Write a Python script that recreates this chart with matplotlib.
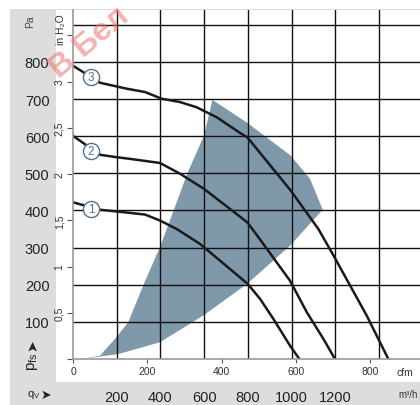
import numpy as np
import matplotlib
matplotlib.use("Agg")
import matplotlib.pyplot as plt
from matplotlib.patches import Rectangle

plt.rcParams['font.family'] = ['Liberation Sans', 'DejaVu Sans']
plt.rcParams['mathtext.fontset'] = 'custom'
plt.rcParams['mathtext.rm'] = 'Liberation Sans'
plt.rcParams['mathtext.it'] = 'Liberation Sans'

# ==============================
# DATA
# ==============================
# fan curves: flow in m3/h, static pressure in Pa
curve1_q = [0, 124, 206, 330, 398, 475, 581, 764, 800, 856, 917, 993, 1036]
curve1_p = [422, 402, 397, 389, 373, 350, 310, 220, 202, 162, 108, 36, 0]

curve2_q = [0, 124, 206, 261, 398, 490, 600, 798, 856, 993, 1070, 1146, 1199]
curve2_p = [601, 550, 543, 539, 528, 499, 458, 368, 322, 211, 126, 54, 0]

curve3_q = [0, 124, 246, 330, 406, 490, 566, 658, 764, 798, 996, 1123, 1191, 1268, 1344, 1443]
curve3_p = [790, 744, 728, 719, 701, 692, 678, 651, 609, 597, 454, 350, 280, 198, 117, 0]

# operating range (shaded area)
zone_q = [40, 124, 192, 253, 322, 398, 458, 526, 600, 638, 798, 996, 1085, 1143,
          1062, 993, 796, 601, 398, 205, 40]
zone_p = [0, 9, 54, 99, 199, 301, 396, 504, 602, 698, 636, 548, 485, 402,
          350, 305, 202, 119, 45, 13, 0]

curve_labels = ['1', '2', '3']
label_q = [82, 82, 82]
label_p = [404, 560, 760]

m3h_ticks = [200, 400, 600, 800, 1000, 1200, 1400]
m3h_labels = ['200', '400', '600', '800', '1000', '1200', '']
pa_ticks = [100, 200, 300, 400, 500, 600, 700, 800, 900]
pa_labels = ['100', '200', '300', '400', '500', '600', '700', '800', '']
inh2o_ticks = [0, 0.5, 1, 1.5, 2, 2.5, 3, 3.5]
inh2o_labels = ['', '0,5', '1', '1,5', '2', '2,5', '3', '']
cfm_ticks = [0, 200, 400, 600, 800]
cfm_labels = ['0', '200', '400', '600', '800']

W, H = 420, 406
fig = plt.figure(figsize=(W / 100, H / 100), dpi=100)

def fx(px):
    return px / W

def fy(py):
    return 1 - py / H

# gray frame + white panel
fig.patches.append(Rectangle((fx(10), 0), fx(410), fy(10), transform=fig.transFigure,
                             facecolor='#dddddd', edgecolor='none', zorder=-10))
fig.patches.append(Rectangle((fx(56), fy(383)), 1 - fx(56), fy(11) - fy(383),
                             transform=fig.transFigure, facecolor='white',
                             edgecolor='none', zorder=-9))

ax = fig.add_axes([fx(73), fy(360), 1 - fx(73), fy(11) - fy(360)])
ax.set_xlim(0, 1588)
ax.set_ylim(0, 940)
ax.patch.set_visible(False)

for s in ['top', 'right']:
    ax.spines[s].set_visible(False)
for s in ['left', 'bottom']:
    ax.spines[s].set_color('#999999')
    ax.spines[s].set_linewidth(1.2)
    ax.spines[s].set_zorder(5)

# grid
for q in m3h_ticks:
    ax.axvline(q, color='#111111', lw=1.0, zorder=3)
for p in pa_ticks:
    ax.axhline(p, color='#111111', lw=1.0, zorder=3)

# shaded zone
ax.fill(zone_q, zone_p, color='#7f98aa', lw=0, zorder=2)

# curves
for q, p in [(curve1_q, curve1_p), (curve2_q, curve2_p), (curve3_q, curve3_p)]:
    ax.plot(q, p, color='#1a1a1a', lw=1.8, zorder=4)

ax.scatter(label_q, label_p, s=135, facecolor='white', edgecolor='#4f7391',
           linewidth=1.0, zorder=6)
for t, q, p in zip(curve_labels, label_q, label_p):
    ax.text(q, p, t, ha='center', va='center', fontsize=8.5, color='#4f7391', zorder=7)

# main axes: m3/h and Pa
ax.set_xticks(m3h_ticks)
ax.set_xticklabels(m3h_labels, fontsize=10.5, color='#222222')
ax.set_yticks(pa_ticks)
ax.set_yticklabels(pa_labels, fontsize=10.5, color='#222222')
ax.tick_params(axis='x', length=0, pad=22)
ax.tick_params(axis='y', length=0, pad=17)

# inH2O secondary axis
sy = ax.secondary_yaxis('left', functions=(lambda p: p / 249.089, lambda i: i * 249.089))
sy.set_yticks(inh2o_ticks)
sy.set_yticklabels(inh2o_labels, fontsize=7.5, color='#333333', rotation=90, va='center')
sy.tick_params(length=4.3, width=0.8, color='#555555', pad=2)
sy.spines['left'].set_visible(False)

# cfm secondary axis
sx = ax.secondary_xaxis('bottom', functions=(lambda q: q / 1.699, lambda c: c * 1.699))
sx.set_xticks(cfm_ticks)
sx.set_xticklabels(cfm_labels, fontsize=7.5, color='#333333')
sx.tick_params(length=3, width=0.8, color='#555555', pad=2)
sx.spines['bottom'].set_visible(False)

# unit texts
fig.text(fx(61), fy(30), 'in H₂O', rotation=90, ha='center', va='center',
         fontsize=7.5, color='#333333')
fig.text(fx(30), fy(22), 'Pa', rotation=90, ha='center', va='center',
         fontsize=7.5, color='#444444')
fig.text(fx(405), fy(373), 'cfm', ha='center', va='center', fontsize=7.5, color='#333333')
fig.text(fx(408), fy(395), 'm³/h', ha='center', va='center', fontsize=7, color='#333333')
fig.text(fx(32), fy(362), r'$\mathrm{p_{fs}}$', rotation=90, ha='center', va='center',
         fontsize=11, color='#222222')
fig.text(fx(32), fy(345), '➤', rotation=90, ha='center', va='center',
         fontsize=10, color='#222222', family='DejaVu Sans')
fig.text(fx(34), fy(395), r'$\mathrm{q_V}$', ha='center', va='center',
         fontsize=8, color='#222222')
fig.text(fx(46), fy(395), '➤', ha='center', va='center',
         fontsize=9, color='#222222', family='DejaVu Sans')

# watermark
fig.text(fx(54), fy(73), 'В Бел', rotation=40, ha='left', va='center',
         rotation_mode='anchor', fontsize=23, fontweight='bold', color='#f07070',
         alpha=0.55, zorder=20)

fig.savefig('out.png', dpi=100)
